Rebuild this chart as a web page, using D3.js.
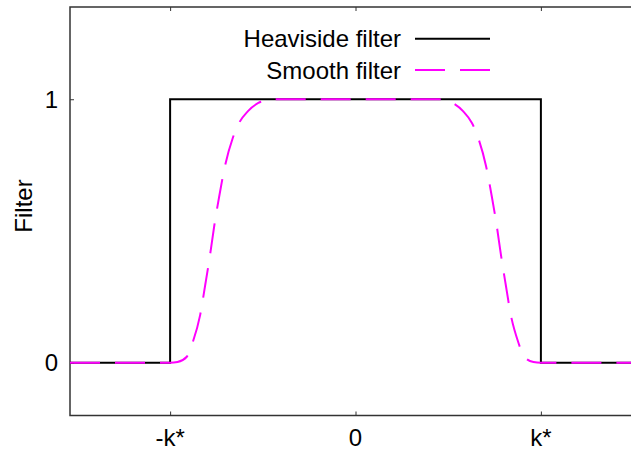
<!DOCTYPE html>
<html>
<head>
<meta charset="utf-8">
<script src="https://cdn.jsdelivr.net/npm/d3@7"></script>
<style>
  html, body { margin: 0; padding: 0; background: #fff; }
  svg { display: block; }
  text { font-family: "Liberation Sans", Arial, sans-serif; fill: #000; }
</style>
</head>
<body>
<svg id="chart" width="631" height="450"></svg>
<script>
// ---- data (x in units of k*) ----
const xTickValues = [-1, 0, 1];
const xTickLabels = ["-k*", "0", "k*"];
const yTickValues = [0, 1];
const yTickLabels = ["0", "1"];

const heavisideX = [-1.54, -1, -1, 1, 1, 1.54];
const heavisideY = [0, 0, 1, 1, 0, 0];

const smoothX = [-1.54, -1.0, -0.96, -0.91, -0.878, -0.838, -0.81, -0.784, -0.762, -0.735, -0.704, -0.662, -0.628, -0.58, -0.524, -0.46,
                 0,
                 0.46, 0.524, 0.58, 0.628, 0.662, 0.704, 0.735, 0.762, 0.784, 0.81, 0.838, 0.878, 0.91, 0.96, 1.0, 1.54];
const smoothY = [0, 0, 0.003, 0.023, 0.078, 0.181, 0.298, 0.412, 0.519, 0.632, 0.747, 0.853, 0.91, 0.955, 0.986, 1,
                 1,
                 1, 0.986, 0.955, 0.91, 0.853, 0.747, 0.632, 0.519, 0.412, 0.298, 0.181, 0.078, 0.023, 0.003, 0, 0];

const seriesNames = ["Heaviside filter", "Smooth filter"];

// ---- layout ----
const svg = d3.select("#chart");
const pLeft = 70, pRight = 641, pTop = 7, pBottom = 415.5;
const fontSize = 24;

const x = d3.scaleLinear().domain([-1.54, 1.54]).range([pLeft, pRight]);
const y = d3.scaleLinear().domain([-0.2, 1.35]).range([pBottom, pTop]);

const frameColor = "#333";

// frame
svg.append("rect")
  .attr("x", pLeft).attr("y", pTop)
  .attr("width", pRight - pLeft).attr("height", pBottom - pTop)
  .attr("fill", "none").attr("stroke", frameColor).attr("stroke-width", 1.5);

// axes ticks (inward) using d3 axes
const xAxisB = d3.axisBottom(x).tickValues(xTickValues).tickSize(-4).tickFormat("");
const xAxisT = d3.axisTop(x).tickValues(xTickValues).tickSize(-4).tickFormat("");
const yAxisL = d3.axisLeft(y).tickValues(yTickValues).tickSize(-4).tickFormat("");

function styleAxis(g) {
  g.select(".domain").remove();
  g.selectAll(".tick line").attr("stroke", frameColor).attr("stroke-width", 1);
}
svg.append("g").attr("transform", `translate(0,${pBottom})`).call(xAxisB).call(styleAxis);
svg.append("g").attr("transform", `translate(0,${pTop})`).call(xAxisT).call(styleAxis);
svg.append("g").attr("transform", `translate(${pLeft},0)`).call(yAxisL).call(styleAxis);

// tick labels
svg.append("g").selectAll("text").data(xTickValues).join("text")
  .attr("x", d => x(d)).attr("y", 446)
  .attr("text-anchor", "middle")
  .attr("font-size", fontSize)
  .text((d, i) => xTickLabels[i]);

svg.append("g").selectAll("text").data(yTickValues).join("text")
  .attr("x", 58).attr("y", d => y(d) + 8.5)
  .attr("text-anchor", "end")
  .attr("font-size", fontSize)
  .text((d, i) => yTickLabels[i]);

// y label
svg.append("text")
  .attr("transform", "translate(32,206) rotate(-90)")
  .attr("text-anchor", "middle")
  .attr("font-size", fontSize)
  .text("Filter");

// lines
const hData = heavisideX.map((v, i) => [v, heavisideY[i]]);
const sData = smoothX.map((v, i) => [v, smoothY[i]]);

svg.append("clipPath").attr("id", "clip")
  .append("rect").attr("x", pLeft).attr("y", pTop).attr("width", pRight - pLeft).attr("height", pBottom - pTop);

const plot = svg.append("g").attr("clip-path", "url(#clip)");

plot.append("path")
  .datum(hData)
  .attr("d", d3.line().x(d => x(d[0])).y(d => y(d[1])))
  .attr("fill", "none").attr("stroke", "#000").attr("stroke-width", 2)
  .attr("stroke-linejoin", "miter");

plot.append("path")
  .datum(sData)
  .attr("d", d3.line().x(d => x(d[0])).y(d => y(d[1])).curve(d3.curveMonotoneX))
  .attr("fill", "none").attr("stroke", "#ff00ff").attr("stroke-width", 2)
  .attr("stroke-dasharray", "30,15");

// legend
const legend = svg.append("g");
const legRows = [38.7, 70];
legend.selectAll("text").data(seriesNames).join("text")
  .attr("x", 401).attr("y", (d, i) => legRows[i] + 8.5)
  .attr("text-anchor", "end")
  .attr("font-size", fontSize)
  .text(d => d);
legend.append("line")
  .attr("x1", 415).attr("x2", 490).attr("y1", legRows[0]).attr("y2", legRows[0])
  .attr("stroke", "#000").attr("stroke-width", 2);
legend.append("line")
  .attr("x1", 415).attr("x2", 490).attr("y1", legRows[1]).attr("y2", legRows[1])
  .attr("stroke", "#ff00ff").attr("stroke-width", 2)
  .attr("stroke-dasharray", "30,15");
</script>
</body>
</html>
